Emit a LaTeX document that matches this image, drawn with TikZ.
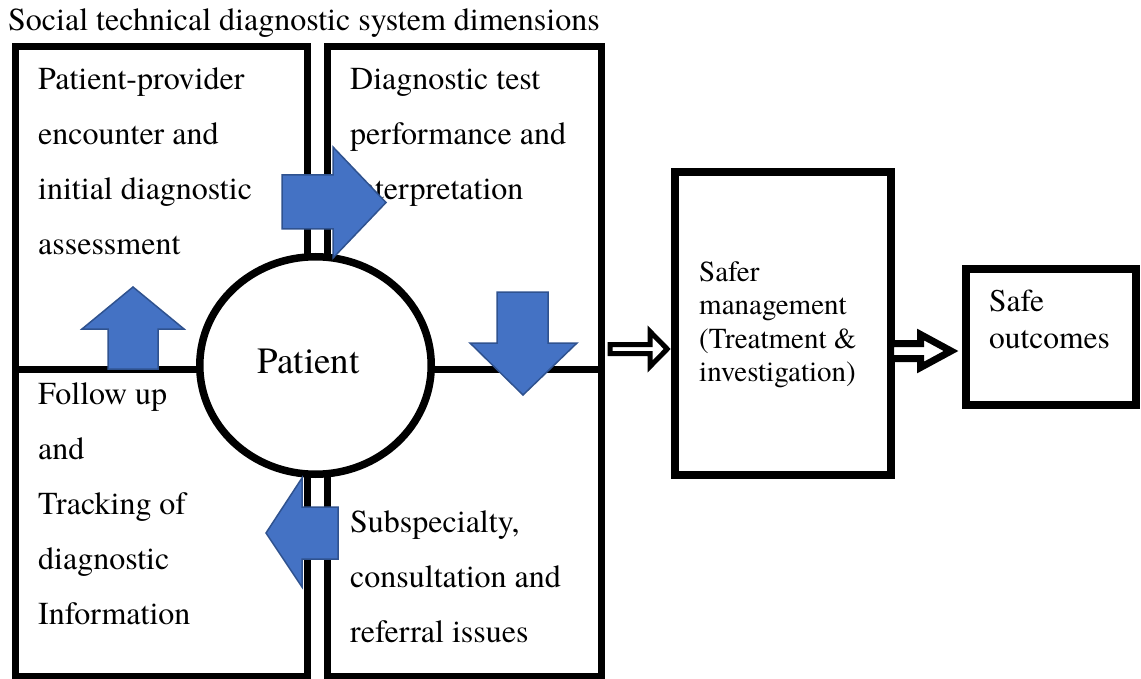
\documentclass[tikz,border=0pt]{standalone}
\usepackage{fontspec}
\setmainfont{texgyretermes}[Extension=.otf, UprightFont=*-regular, BoldFont=*-bold, ItalicFont=*-italic, BoldItalicFont=*-bolditalic]
\usetikzlibrary{shapes.geometric,calc}
\definecolor{arrowblue}{HTML}{4472C4}
\definecolor{arrowedge}{HTML}{2F528F}
\newcommand{\boxlines}[1]{\begin{tabular}[t]{@{}l@{}}#1\end{tabular}}

\begin{document}
\begin{tikzpicture}[x=1pt, y=-1pt,
  quad/.style={line width=7pt},
  txt/.style={anchor=base west, inner sep=0pt, font=\fontsize{32}{55}\selectfont},
  bluearrow/.style={fill=arrowblue, draw=arrowedge, line width=1.5pt},
  hollow/.style={draw=black, fill=white, line join=miter},
  outbox/.style={draw, line width=8pt, inner sep=0pt}]
\useasboundingbox (0,0) rectangle (1141,679);

\node[anchor=base west, inner sep=0pt, font=\fontsize{32}{38}\selectfont] (title) at (8,31) {Social technical diagnostic system dimensions};

\draw[quad] (15,46.5) rectangle (307,369);
\draw[quad] (15,369) rectangle (307,676);
\draw[quad] (327,46.5) rectangle (601.5,369);
\draw[quad] (327,369) rectangle (601.5,676);

\node[txt] (encounter) at (38,90) {\boxlines{Patient-provider\\encounter and\\initial diagnostic\\assessment}};
\node[txt] (testing) at (350,90) {\boxlines{Diagnostic test\\performance and\\interpretation}};
\node[txt] (followup) at (38,404) {\boxlines{Follow up\\and\\Tracking of\\diagnostic\\Information}};
\node[txt] (referral) at (350,532) {\boxlines{Subspecialty,\\consultation and\\referral issues}};

\node[draw, ellipse, fill=white, line width=7.5pt, minimum width=231.5pt, minimum height=217.5pt, inner sep=0pt] (patient) at (315.5,365.5) {};
\node[anchor=base, inner sep=0pt, font=\fontsize{37}{44}\selectfont] (ptlabel) at (308.5,373) {Patient};

\draw[bluearrow] (282,175) -- (333,175) -- (333,147) -- (386,202.5) -- (333,258) -- (333,229) -- (282,229) -- cycle;
\draw[bluearrow] (497,292) -- (548,292) -- (548,343) -- (577,343) -- (523,395) -- (470,343) -- (497,343) -- cycle;
\draw[bluearrow] (338,507) -- (302,507) -- (302,478) -- (266,533) -- (302,587) -- (302,559) -- (338,559) -- cycle;
\draw[bluearrow] (108,369) -- (108,329) -- (82,329) -- (133,287) -- (184,329) -- (158,329) -- (158,369) -- cycle;

\node[outbox, minimum width=216pt, minimum height=303pt] (mgmt) at (783,323.5) {};
\node[outbox, minimum width=170pt, minimum height=136pt] (outc) at (1051,337) {};
\node[anchor=base west, inner sep=0pt, font=\fontsize{29}{33.5}\selectfont] (mgmttext) at (699,281) {\boxlines{Safer\\management\\(Treatment \&\\investigation)}};
\node[anchor=base west, inner sep=0pt, font=\fontsize{31.5}{36}\selectfont] (outctext) at (989,312) {\boxlines{Safe\\outcomes}};

\draw[hollow, line width=5pt, shift={(mgmt.west |- 0,349)}] (-61,-4.5) -- (-21,-4.5) -- (-21,-17.5) -- (-3.8,0) -- (-21,17.5) -- (-21,4.5) -- (-61,4.5) -- cycle;
\draw[hollow, line width=7pt, shift={(outc.west |- 0,351)}] (-71.5,-7.5) -- (-41.5,-7.5) -- (-41.5,-16.5) -- (-11,0) -- (-41.5,16.5) -- (-41.5,7.5) -- (-71.5,7.5) -- cycle;
\end{tikzpicture}
\end{document}
